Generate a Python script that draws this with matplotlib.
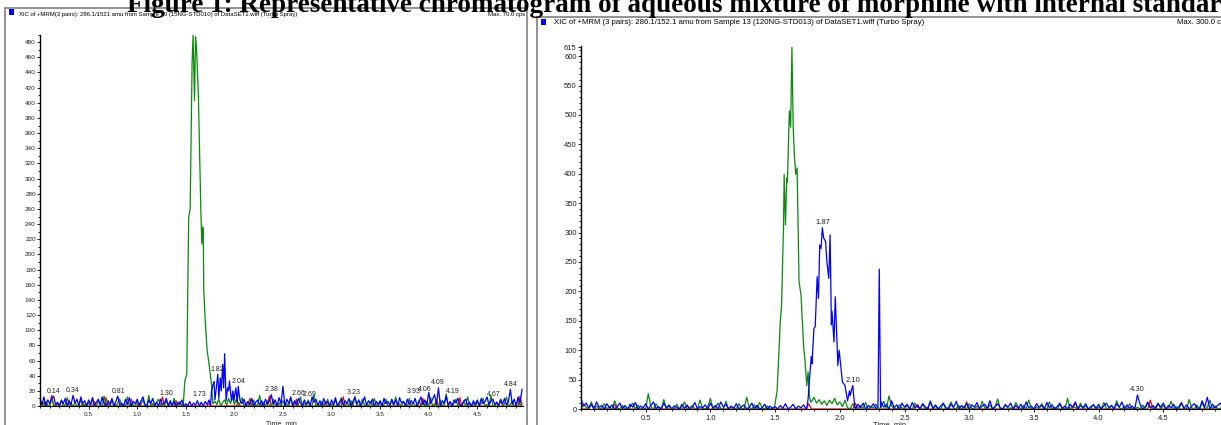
"""Two XIC chromatograms (morphine + internal standard), Analyst-style"""
import numpy as np
import matplotlib
matplotlib.use("Agg")
from matplotlib import pyplot as plt
from matplotlib.patches import Rectangle
from matplotlib.ticker import MultipleLocator, FixedLocator

# ---------------- data (counts vs time, min) ----------------
# noise traces are sampled every 0.02 min from 0.00 to 4.96 (249 points);
# grid points inside a peak window are replaced by the peak points
grid_step = 0.02
grid_end = 4.96

# left panel: Sample 10 (15NG-STD010)
left_red = [
    0, 0, 5, 0, 0, 0, 14, 0, 0, 2, 0, 0, 0, 0, 0, 8, 0, 0, 0, 0, 0, 0, 3, 0, 0,
    0, 0, 0, 6, 0, 0, 0, 0, 0, 11, 0, 0, 0, 0, 2, 0, 0, 0, 0, 0, 0, 0, 9, 0, 0,
    0, 4, 0, 0, 0, 0, 0, 0, 0, 0, 0, 0, 0, 12, 0, 0, 0, 0, 0, 0, 7, 0, 0, 0, 0,
    0, 0, 0, 0, 0, 0, 0, 0, 0, 0, 0, 0, 3, 0, 0, 0, 0, 0, 0, 0, 0, 0, 0, 0, 0,
    0, 0, 5, 0, 0, 0, 0, 0, 10, 0, 0, 0, 0, 0, 0, 0, 0, 0, 13, 0, 0, 0, 0, 0, 0,
    0, 0, 0, 0, 0, 0, 0, 9, 0, 0, 0, 0, 0, 0, 0, 0, 0, 0, 0, 0, 0, 0, 6, 0, 0,
    0, 0, 0, 0, 0, 0, 12, 0, 0, 0, 0, 0, 0, 0, 0, 0, 0, 0, 0, 0, 0, 0, 0, 0, 0,
    0, 0, 0, 0, 0, 0, 0, 0, 0, 0, 0, 0, 0, 0, 0, 0, 0, 0, 0, 0, 0, 0, 10, 0, 0,
    0, 0, 0, 0, 8, 0, 0, 0, 0, 0, 0, 0, 0, 0, 0, 0, 11, 0, 0, 0, 0, 0, 0, 0, 0,
    0, 0, 0, 0, 0, 0, 0, 0, 0, 0, 0, 0, 9, 0, 0, 0, 0, 0, 0, 0, 0, 0, 13, 0,
]
left_green = [
    0, 3, 0, 6, 1, 0, 9, 2, 0, 4, 0, 7, 0, 2, 11, 0, 3, 0, 5, 0, 1, 8, 0, 2, 0,
    4, 0, 10, 1, 0, 6, 2, 0, 13, 0, 3, 0, 7, 1, 0, 4, 9, 0, 2, 0, 12, 0, 3, 1, 0,
    6, 0, 2, 8, 0, 1, 14, 0, 3, 0, 5, 9, 0, 2, 0, 7, 0, 4, 0, 10, 1, 0, 6, 0, 2,
    0, 0, 0, 0, 0, 0, 0, 0, 0, 0, 0, 0, 0, 0, 0, 6, 2, 9, 0, 5, 8, 1, 10, 3, 12,
    2, 9, 0, 4, 11, 0, 3, 6, 0, 1, 8, 0, 2, 14, 0, 5, 0, 7, 1, 0, 9, 2, 0, 4, 0,
    7, 0, 3, 0, 10, 1, 6, 0, 2, 12, 0, 4, 0, 8, 1, 0, 15, 0, 3, 0, 6, 2, 0, 9, 0,
    3, 0, 8, 1, 0, 11, 2, 0, 5, 0, 7, 0, 13, 1, 0, 4, 9, 0, 2, 0, 6, 0, 10, 1, 0,
    5, 0, 2, 9, 0, 1, 7, 0, 12, 0, 3, 0, 6, 2, 0, 10, 0, 4, 1, 0, 8, 0, 3, 0, 6,
    0, 11, 0, 3, 1, 0, 8, 0, 2, 16, 0, 5, 0, 3, 9, 0, 1, 0, 7, 0, 12, 2, 0, 4, 0,
    6, 0, 3, 10, 0, 2, 0, 14, 1, 0, 5, 0, 9, 0, 3, 12, 0, 2, 7, 0, 1, 10, 0, 4,
]
left_blue = [
    10, 2, 12, 0, 8, 3, 10, 13, 2, 5, 0, 8, 3, 10, 0, 6, 2, 14, 4, 9, 0, 12, 3, 7, 0,
    8, 2, 11, 0, 5, 9, 1, 12, 3, 0, 7, 2, 10, 0, 6, 13, 1, 4, 0, 9, 2, 11, 0, 6, 3,
    9, 0, 7, 12, 2, 0, 8, 3, 10, 1, 5, 0, 9, 2, 4, 10, 0, 7, 1, 6, 0, 5, 2, 8, 0,
    3, 0, 6, 0, 4, 1, 7, 0, 5, 0, 6, 2, 8, 0, 0, 0, 0, 0, 0, 0, 0, 0, 0, 0, 0,
    0, 0, 0, 0, 3, 9, 0, 6, 2, 10, 0, 5, 8, 1, 7, 0, 9, 3, 6, 15, 2, 8, 0, 11, 3,
    26, 0, 9, 3, 12, 0, 7, 2, 10, 4, 0, 8, 2, 6, 0, 12, 5, 9, 1, 7, 0, 10, 3, 6, 0,
    8, 2, 11, 0, 5, 9, 1, 7, 3, 10, 0, 6, 11, 2, 8, 0, 5, 12, 1, 7, 3, 9, 0, 6, 2,
    7, 0, 10, 3, 6, 1, 9, 2, 8, 0, 11, 4, 6, 0, 9, 2, 7, 3, 10, 0, 5, 12, 2, 8, 1,
    18, 3, 9, 15, 2, 24, 0, 7, 3, 13, 1, 6, 0, 8, 4, 10, 2, 0, 6, 9, 1, 5, 0, 7, 2,
    8, 0, 10, 3, 6, 12, 1, 7, 9, 2, 5, 0, 8, 3, 10, 1, 6, 22, 2, 9, 0, 12, 4, 22,
]
left_green_peak_t = [1.475, 1.49, 1.51, 1.53, 1.545, 1.565, 1.575, 1.59, 1.60, 1.61, 1.63,
                     1.655, 1.665, 1.675, 1.68, 1.685, 1.70, 1.72, 1.74, 1.765, 1.78]
left_green_peak_v = [3, 33, 42, 249, 260, 452, 489, 403, 487, 474, 408,
                     258, 214, 236, 232, 153, 112, 73, 55, 28, 3]
left_blue_peak_t = [1.755, 1.765, 1.78, 1.79, 1.80, 1.83, 1.84, 1.855, 1.865, 1.88, 1.89, 1.90,
                    1.915, 1.93, 1.94, 1.95, 1.97, 1.985, 1.995, 2.015, 2.03, 2.04, 2.05, 2.06]
left_blue_peak_v = [0, 20, 28, 32, 8, 42, 10, 37, 20, 55, 24, 69,
                    7, 24, 20, 33, 7, 20, 7, 24, 5, 26, 15, 7]
left_label_text = ["0.14", "0.34", "0.81", "1.30", "1.73", "1.82", "2.04", "2.38", "2.66",
                   "2.69", "3.23", "3.93", "4.06", "4.09", "4.19", "4.67", "4.84"]
left_label_y = [12, 14, 13, 10, 8, 42, 26, 15, 10, 8, 11, 12, 15, 24, 13, 8, 22]

# right panel: Sample 13 (120NG-STD013)
right_red = [
    0, 0, 0, 0, 9, 0, 0, 0, 0, 0, 0, 0, 0, 8, 0, 0, 0, 0, 0, 0, 0, 0, 0, 0, 0,
    0, 0, 0, 0, 0, 0, 0, 0, 0, 0, 0, 0, 0, 0, 0, 0, 7, 0, 0, 0, 0, 0, 0, 0, 0,
    0, 0, 0, 0, 0, 0, 0, 0, 0, 0, 0, 0, 0, 0, 0, 0, 0, 0, 6, 0, 0, 0, 0, 0, 0,
    0, 0, 0, 0, 0, 0, 0, 0, 0, 0, 0, 0, 0, 9, 0, 0, 0, 0, 0, 0, 0, 0, 0, 0, 0,
    0, 0, 0, 0, 0, 0, 10, 0, 0, 0, 0, 0, 0, 0, 0, 0, 0, 0, 0, 0, 0, 0, 0, 0, 0,
    0, 0, 0, 0, 0, 8, 0, 0, 0, 0, 0, 0, 0, 0, 0, 0, 0, 0, 0, 0, 0, 0, 0, 0, 12,
    0, 0, 0, 0, 0, 0, 0, 0, 0, 0, 0, 0, 0, 0, 0, 0, 0, 0, 0, 0, 0, 0, 0, 0, 0,
    0, 0, 0, 0, 0, 0, 0, 0, 0, 0, 0, 0, 0, 0, 0, 0, 11, 0, 0, 0, 0, 0, 0, 0, 0,
    0, 0, 0, 0, 0, 0, 0, 0, 0, 0, 0, 0, 0, 0, 0, 0, 0, 0, 0, 0, 15, 0, 0, 0, 0,
    0, 0, 0, 0, 0, 0, 0, 0, 0, 0, 0, 0, 0, 0, 0, 0, 0, 0, 0, 0, 0, 0, 0, 0,
]
right_green = [
    0, 8, 3, 0, 12, 1, 5, 0, 2, 9, 0, 4, 0, 14, 2, 0, 6, 1, 0, 3, 10, 0, 7, 0, 2,
    0, 26, 4, 0, 9, 2, 0, 16, 0, 5, 1, 0, 8, 0, 3, 12, 0, 2, 6, 0, 0, 15, 1, 0, 4,
    18, 0, 3, 10, 1, 0, 13, 0, 4, 2, 0, 9, 1, 0, 20, 3, 0, 7, 0, 11, 2, 0, 5, 0, 1,
    0, 0, 0, 0, 0, 0, 0, 0, 0, 0, 0, 0, 0, 0, 12, 20, 10, 16, 8, 14, 6, 15, 9, 18, 7,
    12, 4, 15, 2, 0, 9, 3, 0, 6, 1, 11, 0, 4, 2, 8, 0, 3, 13, 0, 22, 5, 1, 0, 7, 2,
    0, 6, 1, 0, 10, 3, 0, 8, 0, 2, 14, 0, 5, 1, 0, 9, 0, 3, 12, 0, 1, 6, 0, 4, 0,
    9, 1, 0, 5, 0, 13, 2, 0, 7, 0, 3, 17, 0, 1, 8, 0, 2, 0, 11, 3, 0, 6, 0, 15, 1,
    0, 4, 0, 9, 2, 0, 12, 0, 3, 0, 7, 1, 0, 18, 0, 4, 2, 0, 10, 0, 6, 0, 1, 8, 0,
    3, 0, 11, 1, 0, 6, 0, 14, 2, 0, 5, 0, 9, 1, 0, 3, 0, 7, 0, 12, 2, 0, 4, 10, 0,
    6, 0, 2, 13, 0, 4, 0, 9, 1, 0, 16, 2, 0, 7, 0, 11, 0, 3, 15, 0, 5, 1, 0, 8,
]
right_blue = [
    18, 5, 10, 2, 8, 0, 12, 3, 6, 0, 9, 2, 7, 0, 4, 10, 1, 6, 0, 8, 3, 11, 0, 5, 2,
    9, 0, 6, 12, 1, 4, 0, 10, 2, 7, 0, 5, 3, 0, 8, 1, 6, 0, 3, 11, 0, 4, 2, 7, 0,
    10, 2, 6, 0, 12, 3, 8, 0, 5, 1, 9, 0, 4, 7, 0, 3, 10, 1, 6, 0, 2, 8, 0, 5, 1,
    4, 0, 6, 1, 9, 0, 3, 8, 0, 5, 2, 7, 0, 0, 0, 0, 0, 0, 0, 0, 0, 0, 0, 0, 0,
    0, 0, 0, 0, 0, 0, 0, 8, 2, 10, 0, 6, 3, 9, 1, 0, 12, 3, 8, 0, 14, 2, 7, 0, 10,
    3, 8, 0, 11, 2, 6, 0, 9, 4, 0, 12, 1, 7, 0, 5, 10, 2, 0, 8, 3, 13, 0, 6, 2, 9,
    0, 7, 3, 11, 0, 5, 8, 1, 14, 0, 4, 9, 2, 0, 7, 3, 10, 0, 6, 1, 8, 0, 12, 2, 5,
    0, 9, 3, 6, 0, 11, 2, 7, 0, 4, 10, 1, 5, 0, 8, 3, 12, 0, 6, 2, 9, 0, 4, 7, 1,
    8, 0, 5, 10, 2, 6, 0, 9, 3, 12, 0, 7, 1, 5, 0, 24, 8, 0, 4, 11, 2, 6, 0, 9, 3,
    10, 0, 6, 2, 8, 0, 4, 11, 1, 7, 0, 5, 9, 2, 0, 14, 3, 20, 0, 8, 2, 6, 10, 3,
]
right_green_peak_t = [1.495, 1.515, 1.525, 1.54, 1.55, 1.565, 1.57, 1.58, 1.59, 1.595, 1.61, 1.62,
                      1.63, 1.64, 1.65, 1.66, 1.67, 1.685, 1.70, 1.72, 1.73, 1.745, 1.755, 1.765, 1.775]
right_green_peak_v = [3, 30, 74, 148, 177, 311, 399, 313, 393, 385, 507, 479,
                      615, 479, 427, 399, 410, 217, 194, 108, 85, 40, 63, 22, 12]
right_blue_peak_t = [1.745, 1.755, 1.77, 1.78, 1.785, 1.80, 1.81, 1.825, 1.835, 1.845,
                     1.855, 1.865, 1.875, 1.89, 1.90, 1.915, 1.925, 1.935, 1.94, 1.955,
                     1.965, 1.985, 1.995, 2.02, 2.04, 2.06, 2.075, 2.08, 2.10, 2.115]
right_blue_peak_v = [0, 17, 63, 89, 77, 137, 140, 225, 188, 279,
                     273, 308, 291, 285, 251, 222, 296, 143, 166, 114,
                     191, 74, 100, 46, 40, 14, 31, 23, 40, 4]
right_blue_spike_t = [2.295, 2.305, 2.315]
right_blue_spike_v = [3, 238, 3]
right_label_text = ["1.87", "2.10", "4.30"]
right_label_y = [308, 40, 24]

title = "Figure 1: Representative chromatogram of aqueous mixture of morphine with internal standard"
left_header = "XIC of +MRM(3 pairs): 286.1/1521 amu from Sample 10 (15NG-STD010) of DataSET1.wiff (Turbo Spray)"
right_header = "XIC of +MRM (3 pairs): 286.1/152.1 amu from Sample 13 (120NG-STD013) of DataSET1.wiff (Turbo Spray)"


def build_trace(noise, segments):
    """Noise on the time grid with peak segments spliced in"""
    t = np.round(np.arange(0, grid_end + 0.001, grid_step), 2)
    v = np.array(noise, dtype=float)
    for seg_t, seg_v in segments:
        keep = (t < seg_t[0] - 1e-9) | (t > seg_t[-1] + 1e-9)
        t = np.concatenate([t[keep], seg_t])
        v = np.concatenate([v[keep], seg_v])
    order = np.argsort(t, kind="stable")
    return t[order], v[order]


W, H = 1221, 425
plt.rcParams["font.family"] = ["Liberation Sans", "DejaVu Sans"]
fig = plt.figure(figsize=(W / 100, H / 100), dpi=100)


def px_axes(x0, y_top, x1, y_bot):
    return fig.add_axes([x0 / W, 1 - y_bot / H, (x1 - x0) / W, (y_bot - y_top) / H])


def frame(x0, y0, x1, y1):
    fig.add_artist(Rectangle((x0 / W, 1 - y1 / H), (x1 - x0) / W, (y1 - y0) / H,
                             transform=fig.transFigure, fill=False,
                             ec="#8a8a8a", lw=1.3, clip_on=False))


def marker(x, y):
    fig.add_artist(Rectangle((x / W, 1 - (y + 6) / H), 5 / W, 6 / H,
                             transform=fig.transFigure, fc="#0000ff", ec="none"))


def style_axes(ax, ymax, ymajor, yminor, fs, xmax):
    ax.set_xlim(0, xmax)
    ax.set_ylim(0, ymax)
    for s in ["top", "right"]:
        ax.spines[s].set_visible(False)
    ax.spines["left"].set_linewidth(1.0)
    ax.spines["bottom"].set_linewidth(0.8)
    ax.xaxis.set_major_locator(FixedLocator([0.5, 1.0, 1.5, 2.0, 2.5, 3.0, 3.5, 4.0, 4.5]))
    ax.xaxis.set_minor_locator(MultipleLocator(0.1))
    ax.yaxis.set_major_locator(MultipleLocator(ymajor))
    ax.yaxis.set_minor_locator(MultipleLocator(yminor))
    ax.xaxis.set_major_formatter(lambda v, p: f"{v:.1f}")
    ax.tick_params(axis="both", which="major", labelsize=fs, length=2.5, width=0.7, pad=1.5,
                   colors="#222222")
    ax.tick_params(axis="both", which="minor", length=1.5, width=0.6)
    ax.tick_params(axis="y", pad=0.5)
    ax.set_facecolor("none")


colors = {"red": "#ff0000", "green": "#0a8a0a", "blue": "#0000ff"}

# ---------------- title ----------------
fig.text(127 / W, 1 - 11.5 / H, title, fontsize=19.5, fontweight="bold",
         family=["Liberation Serif", "DejaVu Serif"], va="baseline", ha="left")

# ---------------- left panel ----------------
frame(5, 8, 527, 440)
marker(9, 9)
fig.text(19 / W, 1 - 14.5 / H, left_header, fontsize=4.3, va="center", ha="left")
fig.text(525 / W, 1 - 14.5 / H, "Max. 70.0 cps", fontsize=4.3, va="center", ha="right")

axL = px_axes(40, 34.6, 523, 406)
style_axes(axL, 490, 20, 10, 4.6, 4.97)
tL_r, vL_r = build_trace(left_red, [])
tL_g, vL_g = build_trace(left_green, [(left_green_peak_t, left_green_peak_v)])
tL_b, vL_b = build_trace(left_blue, [(left_blue_peak_t, left_blue_peak_v)])
axL.plot(tL_r, vL_r, color=colors["red"], lw=0.9)
axL.plot(tL_g, vL_g, color=colors["green"], lw=0.9)
axL.plot(tL_b, vL_b, color=colors["blue"], lw=0.9)
# label x shifts (min) for the labels drawn with a leader line
left_shift = {"1.73": -0.09, "2.69": 0.08, "3.93": -0.09, "4.06": -0.10, "4.19": 0.06}
for txt, yv in zip(left_label_text, left_label_y):
    xv = float(txt) + left_shift.get(txt, 0.0)
    axL.text(xv, yv + 2, txt, fontsize=5, ha="center", va="bottom", color="#222222")
fig.text(281 / W, 1 - 420 / H, "Time, min", fontsize=5, ha="center", va="top", color="#222222")

# ---------------- right panel ----------------
frame(537, 17, 1240, 440)
marker(541, 19)
fig.text(554 / W, 1 - 23 / H, right_header, fontsize=5.6, va="center", ha="left")
fig.text(1177 / W, 1 - 23 / H, "Max. 300.0 cps", fontsize=5.6, va="center", ha="left")

axR = px_axes(581, 45.6, 1245, 409)
style_axes(axR, 618, 50, 10, 5.5, (1245 - 581) / 129.4)
axR.yaxis.set_major_locator(FixedLocator([0, 50, 100, 150, 200, 250, 300, 350, 400, 450, 500, 550, 600, 615]))
tR_r, vR_r = build_trace(right_red, [])
tR_g, vR_g = build_trace(right_green, [(right_green_peak_t, right_green_peak_v)])
tR_b, vR_b = build_trace(right_blue, [(right_blue_peak_t, right_blue_peak_v),
                                      (right_blue_spike_t, right_blue_spike_v)])
axR.plot(tR_r, vR_r, color=colors["red"], lw=0.9)
axR.plot(tR_g, vR_g, color=colors["green"], lw=0.9)
axR.plot(tR_b, vR_b, color=colors["blue"], lw=0.9)
for txt, yv in zip(right_label_text, right_label_y):
    axR.text(float(txt), yv + 3, txt, fontsize=5.5, ha="center", va="bottom", color="#222222")
fig.text(890 / W, 1 - 421 / H, "Time, min", fontsize=5.5, ha="center", va="top", color="#222222")

fig.savefig("out.png", dpi=100)
